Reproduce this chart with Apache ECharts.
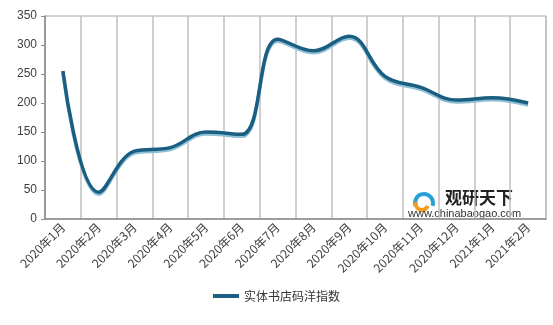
<!DOCTYPE html>
<html><head><meta charset="utf-8">
<script src="https://cdn.jsdelivr.net/npm/echarts@6/dist/echarts.min.js"></script>
<style>html,body{margin:0;padding:0;background:#fff}#c{width:553px;height:325px}</style>
</head><body><div id="c"></div>
<script>
const categories = ['2020年1月','2020年2月','2020年3月','2020年4月','2020年5月','2020年6月','2020年7月','2020年8月','2020年9月','2020年10月','2020年11月','2020年12月','2021年1月','2021年2月'];
const seriesName = '实体书店码洋指数';
const values = [255, 46, 117, 123, 150, 146, 310, 290, 315, 246, 227, 205, 209, 200];
const yTicks = {min: 0, max: 350, interval: 50};

const chart = echarts.init(document.getElementById('c'));
chart.setOption({
  animation: false,
  textStyle: {fontFamily: '"Liberation Sans", "Noto Sans CJK SC", sans-serif'},
  grid: {left: 45, right: 7, top: 16, bottom: 106, containLabel: false, show: true, borderColor: '#a6a6a6', borderWidth: 1},
  legend: {
    bottom: 18, left: 'center', itemWidth: 26, itemHeight: 4, icon: 'rect',
    textStyle: {fontSize: 12, color: '#333', fontFamily: '"Noto Sans CJK SC", sans-serif'},
    data: [seriesName]
  },
  xAxis: {
    type: 'category', data: categories, boundaryGap: true,
    axisLine: {lineStyle: {color: '#8c8c8c', width: 1.5}},
    axisTick: {show: false},
    splitLine: {show: true, lineStyle: {color: '#bfbfbf', width: 1.5}},
    axisLabel: {rotate: 45, fontSize: 12, color: '#404040', margin: 6, interval: 0,
      fontFamily: '"Noto Sans CJK SC", sans-serif'}
  },
  yAxis: {
    type: 'value', min: yTicks.min, max: yTicks.max, interval: yTicks.interval,
    axisLine: {show: true, lineStyle: {color: '#8c8c8c', width: 1.5}},
    axisTick: {show: true, length: 4, lineStyle: {color: '#8c8c8c'}},
    splitLine: {show: false},
    axisLabel: {fontSize: 12, color: '#404040', margin: 8}
  },
  series: [{
    name: seriesName, type: 'line', smooth: 0.4, data: values, showSymbol: false, symbol: 'none',
    lineStyle: {color: '#1a5f82', width: 3.5, shadowColor: '#8fbfd6', shadowOffsetY: 2, shadowBlur: 0},
    itemStyle: {color: '#1a5f82'}
  }],
  graphic: [
    {type: 'arc', shape: {cx: 424, cy: 203, r: 9, startAngle: Math.PI * 0.9, endAngle: Math.PI * 2.1}, style: {fill: 'none', stroke: '#2a9fd6', lineWidth: 4}},
    {type: 'arc', shape: {cx: 422, cy: 204, r: 6, startAngle: Math.PI * 0.1, endAngle: Math.PI * 1.1}, style: {fill: 'none', stroke: '#f39c1f', lineWidth: 4}},
    {type: 'text', left: 445, top: 189, style: {text: '观研天下', font: 'bold 17px "Noto Sans CJK SC"', fill: '#222'}},
    {type: 'text', left: 408, top: 208, style: {text: 'www.chinabaogao.com', font: '11px "Liberation Sans"', fill: '#333'}}
  ]
});
</script></body></html>
